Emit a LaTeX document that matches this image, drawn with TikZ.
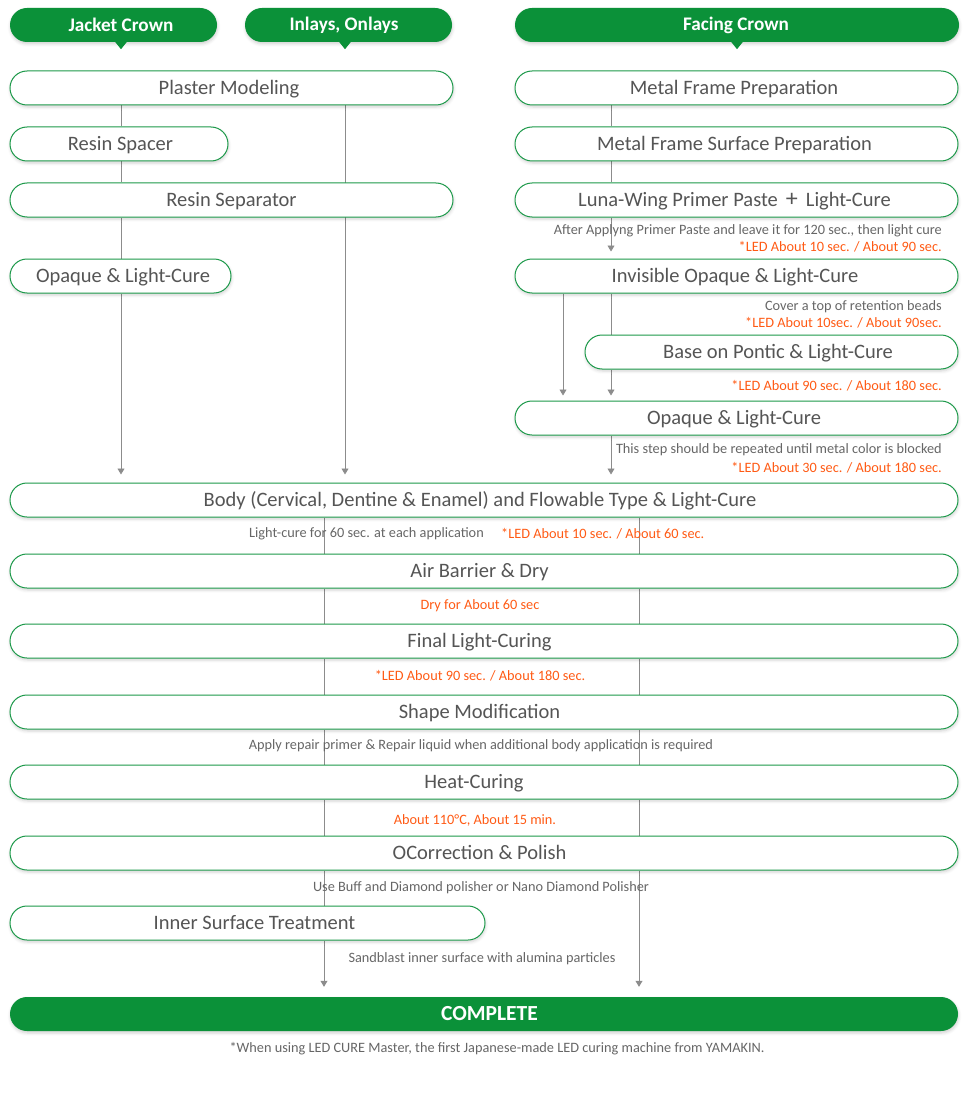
\documentclass[tikz,border=0pt]{standalone}
\usepackage{fontspec}
\setmainfont{Carlito}
\usetikzlibrary{arrows.meta,shadows.blur,backgrounds,calc}
\definecolor{grn}{HTML}{0B9139}
\definecolor{bord}{HTML}{1E9A4B}
\definecolor{txt}{HTML}{555555}
\definecolor{notec}{HTML}{666666}
\definecolor{org}{HTML}{FF5A14}
\definecolor{lnc}{HTML}{8C8C8C}
\begin{document}
\begin{tikzpicture}[x=1pt,y=-1pt,
 shd/.style={blur shadow={shadow xshift=0.5pt, shadow yshift=-2pt, shadow opacity=18, shadow blur radius=3pt}},
 stepbox/.style={draw=bord, line width=1pt, fill=white, rounded corners=17pt, minimum height=34pt, inner sep=0pt, text height=15pt, text depth=2pt, text=txt, font=\fontsize{20.5}{22}\selectfont, shd},
 hdr/.style={fill=grn, rounded corners=17pt, minimum height=34pt, inner sep=0pt, shd},
 hdrtext/.style={text=white, inner sep=0pt, font=\bfseries\fontsize{19.2}{21}\selectfont},
 nt/.style={text=notec, inner sep=0pt, font=\fontsize{14.3}{16}\selectfont},
 ntor/.style={nt, text=org},
 lnst/.style={draw=lnc, line width=0.8pt},
 arr/.style={lnst, -{Triangle[width=7pt,length=6pt]}},
]
\useasboundingbox (0,0) rectangle (970,1102);
\coordinate (xL) at (121,0);
\coordinate (xM) at (345,0);
\coordinate (xR) at (611,0);
\coordinate (xR2) at (563,0);
\coordinate (xA) at (324,0);
\coordinate (xB) at (639,0);
\coordinate (xN3) at (737,0);

% headers
\node[hdr, minimum width=207pt] (h1) at (113.5,25) {};
\node[hdr, minimum width=207pt] (h2) at (348.5,25) {};
\node[hdr, minimum width=444pt] (h3) at (737,25) {};
\fill[grn] ($(h1.south -| xL)+(-6,-0.5)$) -- ($(h1.south -| xL)+(6,-0.5)$) -- ($(h1.south -| xL)+(0,7)$) -- cycle;
\fill[grn] ($(h2.south -| xM)+(-6,-0.5)$) -- ($(h2.south -| xM)+(6,-0.5)$) -- ($(h2.south -| xM)+(0,7)$) -- cycle;
\fill[grn] ($(h3.south -| xN3)+(-6,-0.5)$) -- ($(h3.south -| xN3)+(6,-0.5)$) -- ($(h3.south -| xN3)+(0,7)$) -- cycle;
\node[hdrtext] (t1) at (121,25) {Jacket Crown};
\node[hdrtext] (t2) at (344,25) {Inlays, Onlays};
\node[hdrtext] (t3) at (736,25) {Facing Crown};

% left boxes
\node[stepbox, minimum width=443pt] (pm) at (231.5,88) {Plaster Modeling\hspace*{5pt}};
\node[stepbox, minimum width=218pt] (rsp) at (119,144) {\hspace*{3pt}Resin Spacer};
\node[stepbox, minimum width=443pt] (rse) at (231.5,200) {Resin Separator};
\node[stepbox, minimum width=221pt] (op1) at (120.5,276) {\hspace*{5pt}Opaque \& Light-Cure};

% right boxes
\node[stepbox, minimum width=443pt] (mfp) at (736.5,88) {Metal Frame Preparation\hspace*{5pt}};
\node[stepbox, minimum width=443pt] (mfs) at (736.5,144) {Metal Frame Surface Preparation\hspace*{4pt}};
\node[stepbox, minimum width=443pt] (lw) at (736.5,200) {Luna-Wing Primer Paste \,{\fontsize{24}{24}\selectfont +}\, Light-Cure\hspace*{4pt}};
\node[stepbox, minimum width=443pt] (io) at (736.5,276) {Invisible Opaque \& Light-Cure\hspace*{3pt}};
\node[stepbox, minimum width=373pt] (bp) at (771.5,352) {\hspace*{13pt}Base on Pontic \& Light-Cure};
\node[stepbox, minimum width=443pt] (op2) at (736.5,418) {Opaque \& Light-Cure\hspace*{5pt}};

\node[nt, anchor=east] (n1) at (942,231) {After Applyng Primer Paste and leave it for 120 sec., then light cure};
\node[ntor, anchor=east] (n2) at (942,247) {*LED About 10 sec. / About 90 sec.};
\node[nt, anchor=east] (n3) at (942,307) {Cover a top of retention beads};
\node[ntor, anchor=east] (n4) at (942,323) {*LED About 10sec. / About 90sec.};
\node[ntor, anchor=east] (n5) at (942,386) {*LED About 90 sec. / About 180 sec.};
\node[nt, anchor=east] (n6) at (942,450) {This step should be repeated until metal color is blocked};
\node[ntor, anchor=east] (n7) at (942,468) {*LED About 30 sec. / About 180 sec.};

% full width boxes
\node[stepbox, minimum width=948pt] (body) at (484,500) {Body (Cervical, Dentine \& Enamel) and Flowable Type \& Light-Cure\hspace*{8pt}};
\node[stepbox, minimum width=948pt] (air) at (484,571) {Air Barrier \& Dry\hspace*{9pt}};
\node[stepbox, minimum width=948pt] (flc) at (484,641) {Final Light-Curing\hspace*{9pt}};
\node[stepbox, minimum width=948pt] (shp) at (484,712) {Shape Modification\hspace*{9pt}};
\node[stepbox, minimum width=948pt] (heat) at (484,782) {Heat-Curing\hspace*{20pt}};
\node[stepbox, minimum width=948pt] (corr) at (484,853) {OCorrection \& Polish\hspace*{9pt}};
\node[stepbox, minimum width=475pt] (ist) at (247.5,923) {\hspace*{14pt}Inner Surface Treatment};
\node[hdr, minimum width=948pt, text=white, font=\bfseries\fontsize{21.5}{23}\selectfont] (comp) at (484,1014) {\hspace*{11pt}COMPLETE};

\node[nt, anchor=east] (m1) at (484,534) {Light-cure for 60 sec. at each application};
\node[ntor, anchor=west] (m2) at (501,534) {*LED About 10 sec. / About 60 sec.};
\node[ntor] (m3) at (480,606) {Dry for About 60 sec};
\node[ntor] (m4) at (480,676) {*LED About 90 sec. / About 180 sec.};
\node[nt] (m5) at (481,746) {Apply repair primer \& Repair liquid when additional body application is required};
\node[ntor] (m6) at (475,820) {About 110°C, About 15 min.};
\node[nt] (m7) at (481,888) {Use Buff and Diamond polisher or Nano Diamond Polisher};
\node[nt] (m8) at (482,959) {Sandblast inner surface with alumina particles};
\node[nt] (m9) at (497,1049) {*When using LED CURE Master, the first Japanese-made LED curing machine from YAMAKIN.};

\begin{scope}[on background layer]
\draw[lnst] (pm.south -| xL) -- (rsp.north -| xL);
\draw[lnst] (rsp.south -| xL) -- (rse.north -| xL);
\draw[lnst] (rse.south -| xL) -- (op1.north -| xL);
\draw[arr, shorten >=8pt] (op1.south -| xL) -- (body.north -| xL);
\draw[arr, shorten >=8pt] (pm.south -| xM) -- (body.north -| xM);
\draw[lnst] (mfp.south -| xR) -- (mfs.north -| xR);
\draw[lnst] (mfs.south -| xR) -- (lw.north -| xR);
\draw[arr, shorten >=7pt] (lw.south -| xR) -- (io.north -| xR);
\draw[lnst] (io.south -| xR) -- (bp.north -| xR);
\draw[arr, shorten >=5pt] (bp.south -| xR) -- (op2.north -| xR);
\draw[arr, shorten >=5pt] (io.south -| xR2) -- (op2.north -| xR2);
\draw[arr, shorten >=8pt] (op2.south -| xR) -- (body.north -| xR);
\foreach \a/\b in {body/air, air/flc, flc/shp, shp/heat, heat/corr}{
  \draw[lnst] (\a.south -| xA) -- (\b.north -| xA);
  \draw[lnst] (\a.south -| xB) -- (\b.north -| xB);
}
\draw[lnst] (corr.south -| xA) -- (ist.north -| xA);
\draw[arr, shorten >=10pt] (ist.south -| xA) -- (comp.north -| xA);
\draw[arr, shorten >=10pt] (corr.south -| xB) -- (comp.north -| xB);
\end{scope}
\end{tikzpicture}
\end{document}
